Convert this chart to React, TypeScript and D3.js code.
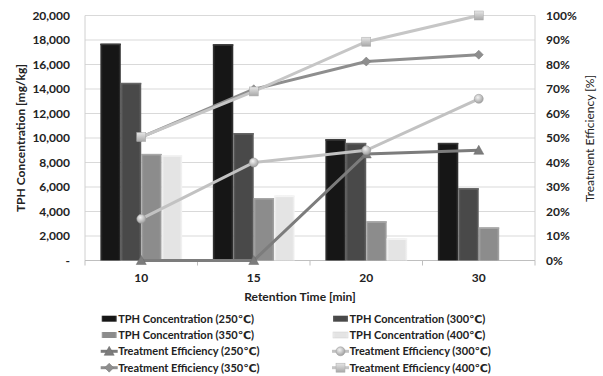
import React from "react";
import * as d3 from "d3";

const categories = ["10", "15", "20", "30"];
const tphSeries = ["250", "300", "350", "400"];
const tph250 = [17700, 17650, 9900, 9600];
const tph300 = [14500, 10400, 9600, 5900];
const tph350 = [8700, 5100, 3200, 2700];
const tph400 = [8600, 5300, 1800, 0];
const eff250 = [0, 0, 43.5, 45];
const eff300 = [17, 40, 45, 66];
const eff350 = [50.4, 69.9, 81.2, 84];
const eff400 = [50.4, 69, 89.3, 100];
const leftTicks = [0, 2000, 4000, 6000, 8000, 10000, 12000, 14000, 16000, 18000, 20000];
const rightTicks = [0, 10, 20, 30, 40, 50, 60, 70, 80, 90, 100];

const W = 603, H = 376;
const L = 85, R = 535, T = 15.5, B = 260.5;
const FONT = "Lato, 'DejaVu Sans', sans-serif";

const barColors = ["#161616", "#494949", "#8c8c8c", "#e4e4e4"];
const barEdge = ["#3a3a3a", "#666", "#a8a8a8", "#f4f4f4"];
const lineColors = ["#7c7c7c", "#c2c2c2", "#8e8e8e", "#c6c6c6"];
const markerTypes = ["triangle", "circle", "diamond", "square"];

function Marker({ type, x, y, color }: { type: string; x: number; y: number; color: string }) {
  const s = 4.5;
  if (type === "triangle")
    return <path d={`M${x},${y - s - 0.5}L${x + s + 0.5},${y + s - 0.5}L${x - s - 0.5},${y + s - 0.5}Z`} fill={color} stroke="#6a6a6a" strokeWidth={0.5} />;
  if (type === "circle") return <circle cx={x} cy={y} r={s} fill="url(#gsphere)" stroke="#999" strokeWidth={0.5} />;
  if (type === "diamond")
    return <path d={`M${x},${y - s}L${x + s},${y}L${x},${y + s}L${x - s},${y}Z`} fill={color} stroke="#777" strokeWidth={0.5} />;
  return <rect x={x - s} y={y - s} width={2 * s} height={2 * s} fill="url(#gsq)" stroke="#aaa" strokeWidth={0.5} />;
}

export default function App() {
  const x = d3.scaleBand<string>().domain(categories).range([L, R]).paddingInner(0).paddingOuter(0);
  const yL = d3.scaleLinear().domain([0, 20000]).range([B, T]);
  const yR = d3.scaleLinear().domain([0, 100]).range([B, T]);
  const bw = x.bandwidth() / 5.5;
  const inner = d3.scaleBand<string>().domain(tphSeries).range([0, bw * 4]);
  const tph = [tph250, tph300, tph350, tph400];
  const eff = [eff250, eff300, eff350, eff400];
  const fmt = d3.format(",");
  const line = d3.line<number>().x((_, i) => (x(categories[i]) as number) + x.bandwidth() / 2).y((d) => yR(d));

  const legendItems = [
    { kind: "bar", i: 0, label: "TPH Concentration (250℃)" },
    { kind: "bar", i: 1, label: "TPH Concentration (300℃)" },
    { kind: "bar", i: 2, label: "TPH Concentration (350℃)" },
    { kind: "bar", i: 3, label: "TPH Concentration (400℃)" },
    { kind: "line", i: 0, label: "Treatment Efficiency (250℃)" },
    { kind: "line", i: 1, label: "Treatment Efficiency (300℃)" },
    { kind: "line", i: 2, label: "Treatment Efficiency (350℃)" },
    { kind: "line", i: 3, label: "Treatment Efficiency (400℃)" },
  ];
  const legRows = [318.7, 335, 351.3, 367.7];
  const legCols = [101.7, 333];

  return (
    <svg width={W} height={H} style={{ position: "absolute", left: 0, top: 0, background: "#fff" }} fontFamily={FONT}>
      <defs>
        {barColors.map((c, i) => (
          <linearGradient key={i} id={`gb${i}`} x1="0" x2="1" y1="0" y2="0">
            <stop offset="0" stopColor={barEdge[i]} />
            <stop offset="0.12" stopColor={c} />
            <stop offset="0.88" stopColor={c} />
            <stop offset="1" stopColor={barEdge[i]} />
          </linearGradient>
        ))}
        <radialGradient id="gsphere" cx="0.4" cy="0.35" r="0.7">
          <stop offset="0" stopColor="#f2f2f2" />
          <stop offset="1" stopColor="#9a9a9a" />
        </radialGradient>
        <linearGradient id="gsq" x1="0" x2="0" y1="0" y2="1">
          <stop offset="0" stopColor="#e6e6e6" />
          <stop offset="1" stopColor="#a8a8a8" />
        </linearGradient>
      </defs>
      <rect width={W} height={H} fill="#fff" />
      {leftTicks.map((t) => (
        <line key={t} x1={L} x2={R} y1={yL(t)} y2={yL(t)} stroke="#d9d9d9" strokeWidth={1} />
      ))}
      <line x1={L} x2={L} y1={T} y2={B} stroke="#d0d0d0" />
      <line x1={R} x2={R} y1={T} y2={B} stroke="#d0d0d0" />
      <line x1={L} x2={R} y1={B} y2={B} stroke="#bfbfbf" />
      {categories.concat(["end"]).map((c, i) => {
        const xx = L + i * x.bandwidth();
        return <line key={c} x1={xx} x2={xx} y1={B} y2={B + 5} stroke="#bfbfbf" />;
      })}
      {categories.map((c, ci) =>
        tph.map((s, si) => {
          const v = s[ci];
          if (!v) return null;
          const bx = (x(c) as number) + (x.bandwidth() - bw * 4) / 2 + (inner(tphSeries[si]) as number);
          return (
            <g key={`${c}-${si}`}>
              <rect x={bx} y={yL(v)} width={bw} height={B - yL(v)} fill={`url(#gb${si})`} />
              <rect x={bx} y={yL(v)} width={bw} height={1.5} fill={barEdge[si]} />
            </g>
          );
        })
      )}
      {eff.map((s, si) => (
        <path key={si} d={line(s) || ""} fill="none" stroke={lineColors[si]} strokeWidth={3} />
      ))}
      {eff.map((s, si) =>
        s.map((v, ci) => (
          <Marker key={`${si}-${ci}`} type={markerTypes[si]} x={(x(categories[ci]) as number) + x.bandwidth() / 2} y={yR(v)} color={lineColors[si]} />
        ))
      )}
      {leftTicks.map((t) => (
        <text key={t} x={70} y={yL(t)} dy="0.35em" textAnchor="end" fontSize={12} fontWeight="bold" fill="#222">
          {t === 0 ? "-" : fmt(t)}
        </text>
      ))}
      {rightTicks.map((t) => (
        <text key={t} x={546} y={yR(t)} dy="0.35em" textAnchor="start" fontSize={12} fontWeight="bold" fill="#222">
          {t + "%"}
        </text>
      ))}
      {categories.map((c) => (
        <text key={c} x={(x(c) as number) + x.bandwidth() / 2} y={278} dy="0.35em" textAnchor="middle" fontSize={12} fontWeight="bold" fill="#222">
          {c}
        </text>
      ))}
      <text x={300} y={297} dy="0.35em" textAnchor="middle" fontSize={12} fontWeight="bold" fill="#222">
        Retention Time [min]
      </text>
      <text transform={`translate(20.5,138) rotate(-90)`} dy="0.35em" textAnchor="middle" fontSize={12} fontWeight="bold" fill="#222">
        TPH Concentration [mg/kg]
      </text>
      <text transform={`translate(590,138.5) rotate(-90)`} dy="0.35em" textAnchor="middle" fontSize={12} fill="#222">
        Treatment Efficiency [%]
      </text>
      {legendItems.map((it, k) => {
        const row = legRows[Math.floor(k / 2)];
        const lx = legCols[k % 2];
        return (
          <g key={k}>
            {it.kind === "bar" ? (
              <rect x={lx} y={row - 3} width={15} height={6} fill={`url(#gb${it.i})`} stroke={it.i === 3 ? "#cfcfcf" : "none"} strokeWidth={0.5} />
            ) : (
              <g>
                <line x1={lx - 1} x2={lx + 16} y1={row} y2={row} stroke={lineColors[it.i]} strokeWidth={3} />
                <Marker type={markerTypes[it.i]} x={lx + 7.5} y={row} color={lineColors[it.i]} />
              </g>
            )}
            <text x={lx + 16.5} y={row} dy="0.35em" fontSize={11} fontWeight="bold" fill="#222">
              {it.label}
            </text>
          </g>
        );
      })}
    </svg>
  );
}
